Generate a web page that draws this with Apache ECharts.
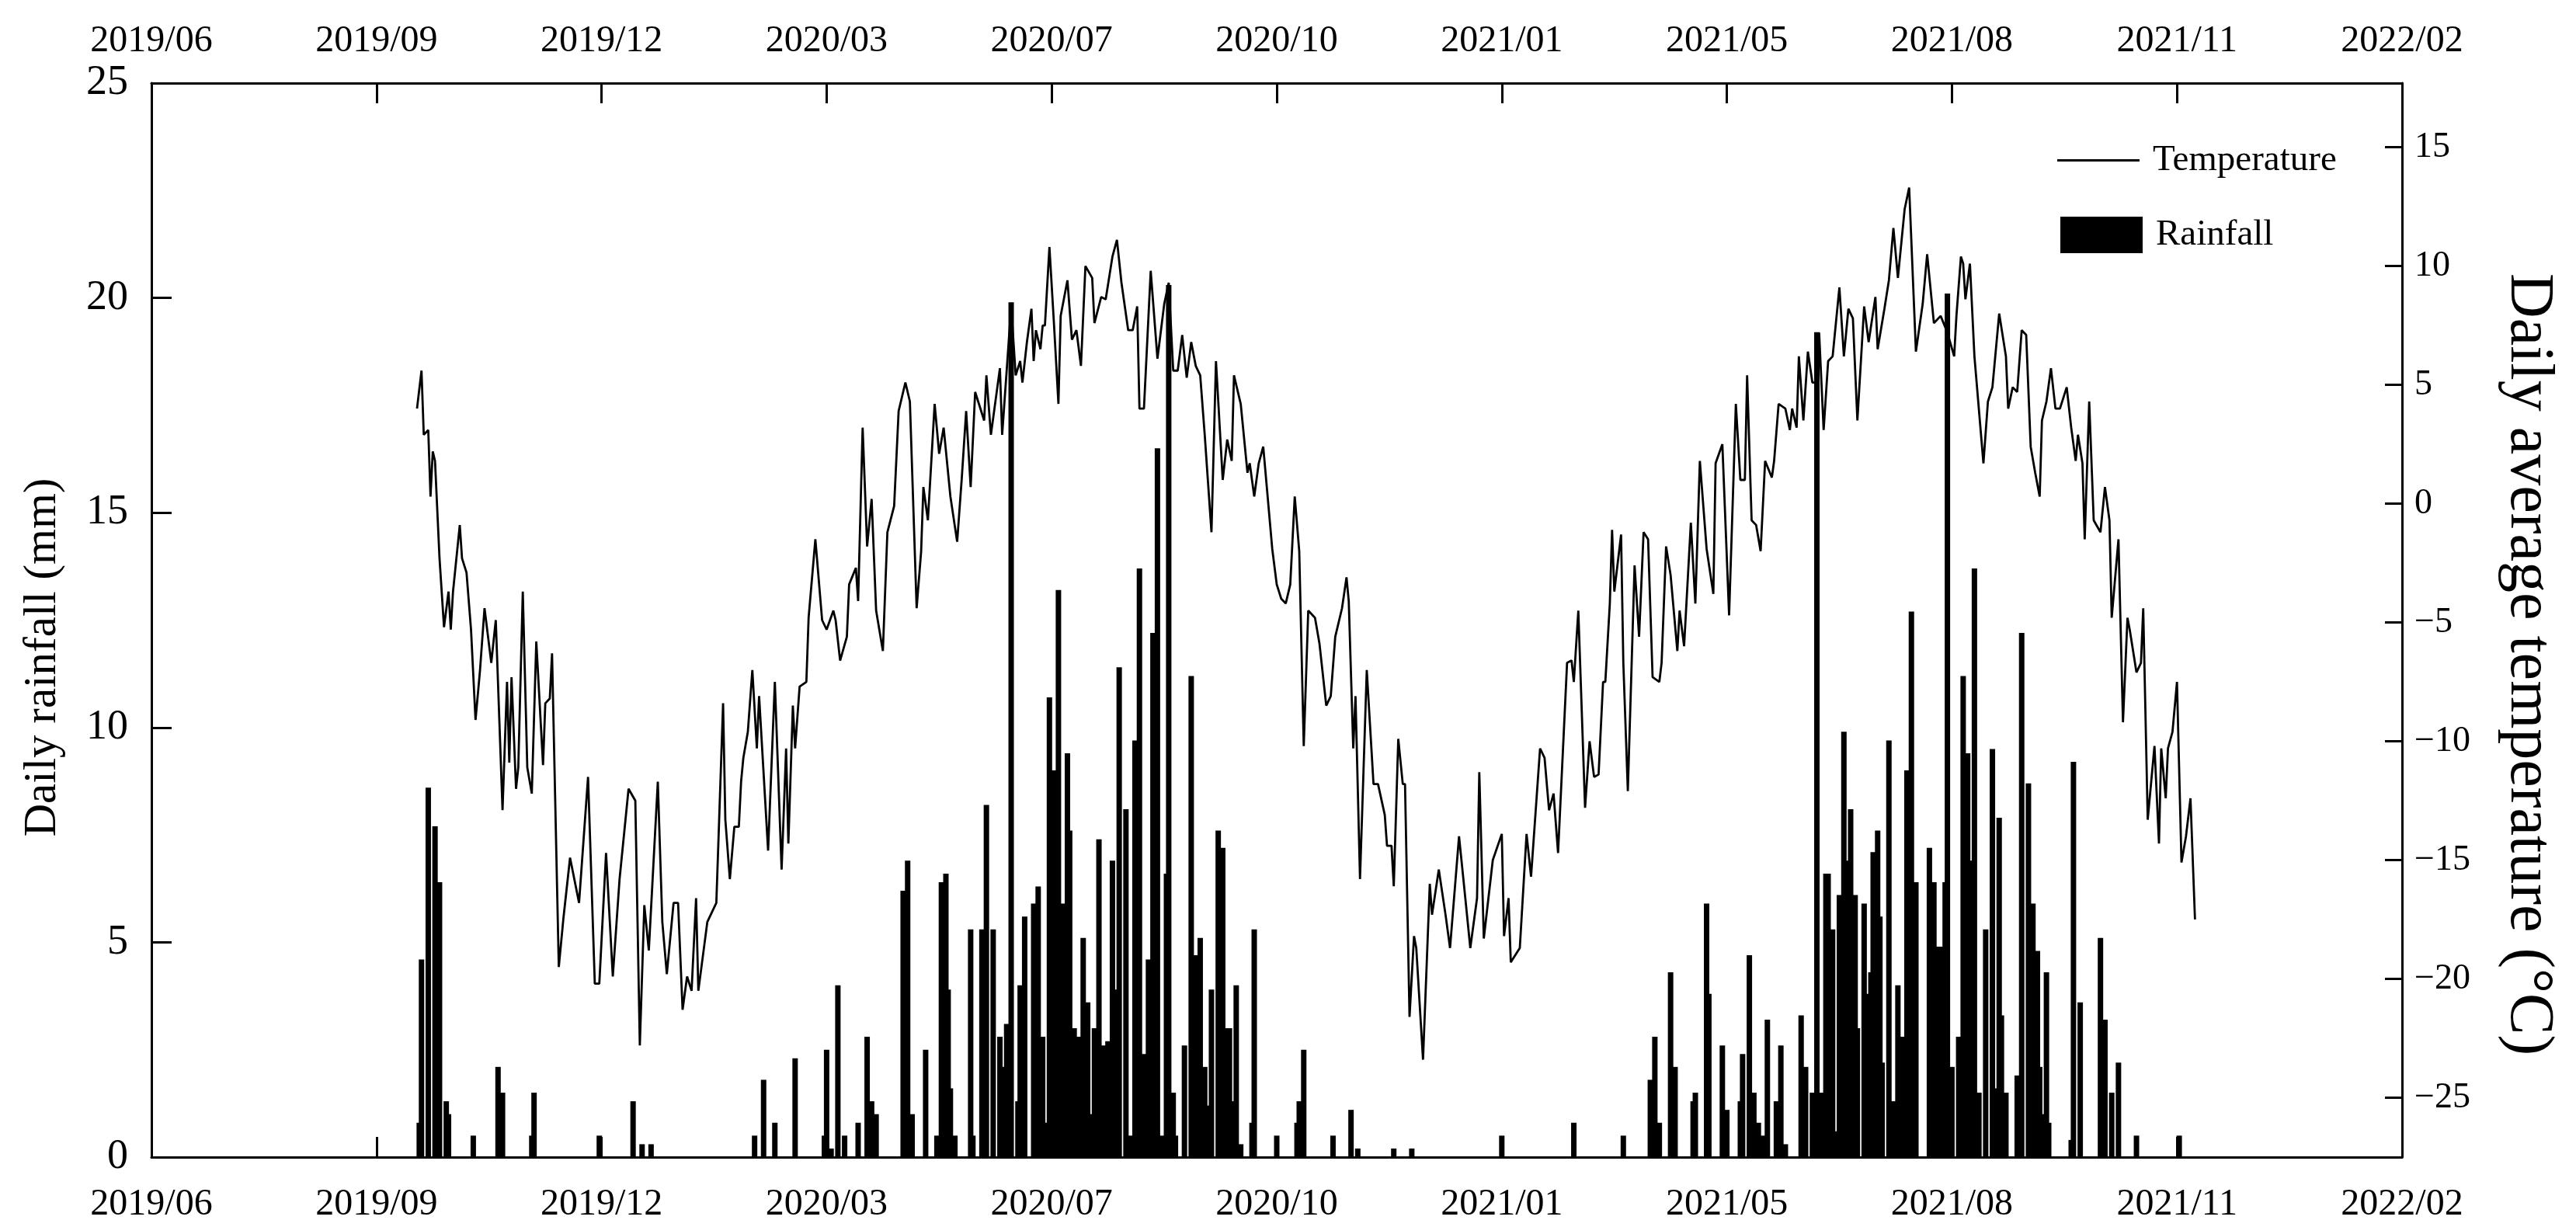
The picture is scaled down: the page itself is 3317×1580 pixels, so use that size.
<!DOCTYPE html>
<html>
<head>
<meta charset="utf-8">
<title>Daily rainfall and temperature</title>
<script src="https://cdn.jsdelivr.net/npm/echarts@6/dist/echarts.min.js"></script>
<style>
  html, body { margin: 0; padding: 0; background: #fff; }
  #chart { width: 3317px; height: 1580px; }
</style>
</head>
<body>
<div id="chart"></div>
<script>
// x values are day numbers counted from 2019/06/01
const startDate = Date.UTC(2019, 5, 1);

// daily average temperature, [day, degC]
const temperature = [
  [118, 4.0], [120, 5.6], [121, 2.9], [123, 3.1], [124, 0.3], [125, 2.2], [126, 1.8], [128, -2.3], [130, -5.2], [132, -3.7],
  [133, -5.3], [134, -3.7], [137, -0.9], [138, -2.3], [140, -2.9], [142, -5.3], [144, -9.1], [146, -7.0], [148, -4.4], [151, -6.7],
  [153, -4.9], [156, -12.9], [158, -7.5], [159, -10.9], [160, -7.3], [162, -12.0], [163, -11.1], [165, -3.7], [167, -11.1], [169, -12.2],
  [171, -5.8], [174, -11.0], [175, -8.4], [177, -8.2], [178, -6.3], [181, -19.5], [183, -17.5], [186, -14.9], [190, -16.8], [194, -11.5],
  [197, -20.2], [199, -20.2], [202, -14.7], [205, -19.9], [208, -15.8], [212, -12.0], [215, -12.5], [217, -22.8], [219, -16.9], [221, -18.8],
  [225, -11.7], [227, -17.6], [229, -19.8], [232, -16.8], [234, -16.8], [236, -21.3], [238, -19.9], [240, -20.5], [242, -16.6], [243, -20.5],
  [247, -17.6], [249, -17.2], [251, -16.8], [254, -8.4], [255, -13.3], [257, -15.8], [259, -13.6], [261, -13.6], [262, -11.7], [263, -10.7],
  [265, -9.6], [267, -7.0], [269, -10.3], [270, -8.1], [274, -14.6], [277, -7.5], [280, -15.4], [282, -10.3], [283, -14.3], [285, -8.5],
  [286, -10.3], [288, -7.7], [291, -7.5], [292, -4.8], [295, -1.5], [298, -4.9], [300, -5.3], [303, -4.5], [304, -4.9], [306, -6.6],
  [309, -5.6], [310, -3.4], [313, -2.7], [314, -4.1], [316, 3.2], [318, -1.8], [320, 0.2], [322, -4.5], [325, -6.2], [327, -1.2],
  [330, -0.1], [332, 3.9], [335, 5.1], [337, 4.3], [340, -4.4], [342, -2.0], [343, 0.7], [345, -0.7], [348, 4.2], [350, 2.1],
  [352, 3.2], [355, 0.3], [358, -1.6], [360, 1.0], [362, 3.9], [364, 0.7], [366, 4.7], [370, 3.5], [371, 5.4], [373, 2.9],
  [377, 5.7], [378, 2.9], [382, 8.3], [384, 5.4], [386, 6.0], [387, 5.1], [389, 6.8], [391, 8.2], [392, 6.0], [393, 7.3],
  [395, 6.5], [396, 7.5], [397, 7.5], [399, 10.8], [401, 7.6], [403, 4.2], [404, 7.9], [407, 9.4], [409, 6.9], [411, 7.3],
  [413, 5.8], [415, 10.0], [418, 9.5], [419, 7.6], [422, 8.7], [424, 8.6], [427, 10.4], [429, 11.1], [431, 9.3], [434, 7.3],
  [436, 7.3], [438, 8.3], [439, 4.0], [441, 4.0], [444, 9.8], [447, 6.1], [450, 8.4], [452, 9.3], [454, 5.6], [456, 5.6],
  [458, 7.1], [460, 5.3], [462, 6.8], [464, 5.8], [466, 5.4], [468, 2.9], [471, -1.2], [473, 6.0], [476, 1.0], [478, 2.7],
  [480, 1.8], [481, 5.4], [484, 4.2], [487, 1.3], [488, 1.7], [490, 0.3], [492, 1.7], [494, 2.4], [498, -1.9], [500, -3.4],
  [502, -4.0], [504, -4.2], [506, -3.4], [508, 0.3], [510, -2.0], [512, -10.2], [514, -4.5], [517, -4.8], [519, -5.9], [522, -8.5],
  [524, -8.1], [526, -5.6], [529, -4.4], [531, -3.1], [532, -4.1], [534, -10.3], [535, -8.1], [537, -15.8], [540, -7.0], [543, -11.8],
  [545, -11.8], [548, -13.1], [549, -14.4], [551, -14.4], [552, -16.1], [554, -9.9], [556, -11.8], [557, -11.8], [559, -21.6], [561, -18.2],
  [562, -18.7], [565, -23.4], [568, -16.0], [569, -17.3], [572, -15.4], [575, -17.3], [577, -18.7], [581, -14.0], [584, -16.8], [586, -18.7],
  [589, -16.6], [590, -11.3], [592, -18.3], [596, -15.0], [600, -13.9], [601, -18.2], [603, -16.6], [604, -19.3], [608, -18.7], [611, -13.9],
  [613, -15.7], [617, -10.3], [619, -10.7], [621, -12.9], [623, -12.2], [625, -14.7], [629, -6.7], [631, -6.6], [632, -7.5], [634, -4.5],
  [637, -12.8], [639, -10.0], [641, -11.5], [643, -11.4], [645, -7.5], [646, -7.5], [648, -4.2], [649, -1.1], [650, -3.7], [653, -1.3],
  [654, -6.7], [656, -12.1], [659, -2.6], [661, -5.6], [662, -3.4], [663, -1.2], [665, -1.5], [667, -7.3], [670, -7.5], [671, -6.7],
  [673, -1.8], [675, -3.0], [678, -6.2], [679, -4.5], [681, -6.0], [684, -0.8], [686, -4.2], [688, 1.8], [691, -1.9], [694, -3.8],
  [695, 1.7], [698, 2.5], [701, -4.7], [704, 4.2], [706, 1.0], [708, 1.0], [709, 5.4], [711, -0.7], [713, -0.9], [715, -2.0],
  [717, 1.8], [720, 1.1], [721, 1.8], [723, 4.2], [726, 4.0], [728, 3.1], [729, 4.0], [731, 3.2], [732, 6.2], [734, 3.5],
  [736, 6.4], [738, 5.1], [740, 5.1], [741, 7.2], [743, 3.1], [745, 6.0], [747, 6.2], [750, 9.1], [752, 6.2], [754, 8.2],
  [756, 7.8], [758, 3.5], [761, 8.3], [763, 6.8], [766, 8.7], [767, 6.5], [770, 8.2], [772, 9.4], [774, 11.6], [776, 9.5],
  [779, 12.4], [781, 13.3], [784, 6.4], [787, 8.4], [789, 10.5], [792, 7.6], [795, 7.9], [798, 7.2], [801, 6.2], [802, 7.9],
  [804, 10.4], [805, 10.1], [806, 8.6], [808, 10.1], [810, 6.2], [814, 1.7], [816, 4.3], [818, 4.9], [821, 8.0], [824, 6.2],
  [825, 4.0], [827, 4.9], [829, 4.7], [831, 7.3], [833, 7.1], [835, 2.4], [837, 1.3], [839, 0.3], [840, 3.5], [842, 4.3],
  [844, 5.7], [846, 4.0], [848, 4.0], [851, 4.9], [853, 3.2], [855, 1.8], [856, 2.9], [858, 1.7], [859, -1.5], [861, 4.3],
  [863, -0.7], [866, -1.2], [868, 0.7], [870, -0.7], [871, -4.8], [874, -1.5], [876, -9.2], [878, -4.8], [879, -5.3], [882, -7.1],
  [884, -6.7], [885, -4.4], [887, -13.3], [890, -10.2], [892, -14.3], [893, -10.3], [895, -12.4], [896, -10.3], [898, -9.6], [900, -7.5],
  [902, -15.1], [904, -14.0], [906, -12.4], [908, -17.5]
];

// daily rainfall, [day, mm]; days without a bar are dry
const rainfall = [
  [119, 0.8], [120, 4.6], [123, 8.6], [126, 7.7], [128, 6.4], [131, 1.3], [132, 1.0], [143, 0.5], [154, 2.1], [156, 1.5],
  [169, 0.5], [170, 1.5], [199, 0.5], [214, 1.3], [218, 0.3], [222, 0.3], [268, 0.5], [272, 1.8], [277, 0.8], [286, 2.3],
  [299, 0.5], [300, 2.5], [302, 0.2], [305, 4.0], [308, 0.5], [314, 0.8], [318, 2.8], [320, 1.3], [322, 1.0], [334, 6.2],
  [336, 6.9], [338, 1.0], [344, 2.5], [349, 0.5], [351, 6.4], [353, 6.6], [354, 3.9], [355, 1.6], [357, 0.5], [364, 5.3],
  [365, 0.5], [369, 5.3], [371, 8.2], [374, 5.3], [377, 2.8], [378, 2.1], [380, 3.1], [382, 19.9], [385, 1.3], [386, 4.0],
  [388, 5.6], [392, 5.9], [394, 6.3], [396, 2.8], [397, 0.8], [399, 10.7], [401, 9.0], [403, 13.2], [405, 5.9], [407, 9.4],
  [408, 7.6], [410, 3.0], [412, 2.8], [414, 5.1], [416, 3.6], [418, 1.0], [419, 3.0], [421, 7.4], [423, 2.6], [425, 2.7],
  [427, 6.9], [429, 3.9], [430, 11.4], [433, 8.1], [435, 0.5], [437, 9.7], [439, 13.7], [441, 2.4], [442, 1.3], [443, 4.6],
  [445, 12.2], [447, 16.5], [449, 0.5], [451, 6.6], [452, 20.3], [454, 1.5], [455, 0.5], [459, 2.6], [462, 11.2], [464, 4.7],
  [466, 5.1], [468, 2.1], [470, 1.2], [471, 3.9], [474, 7.6], [476, 7.2], [477, 3.0], [479, 3.0], [480, 1.3], [482, 4.0],
  [484, 0.3], [489, 0.8], [490, 5.3], [500, 0.5], [509, 0.8], [510, 1.3], [512, 2.5], [525, 0.5], [533, 1.1], [536, 0.2],
  [552, 0.2], [560, 0.2], [600, 0.5], [632, 0.8], [654, 0.5], [666, 1.8], [668, 2.8], [670, 0.8], [675, 4.3], [677, 2.1],
  [685, 1.3], [686, 1.5], [691, 5.9], [692, 3.8], [698, 2.6], [700, 1.1], [706, 1.3], [707, 2.4], [710, 4.7], [712, 1.5],
  [714, 0.8], [716, 0.5], [718, 3.2], [722, 1.3], [724, 2.6], [726, 0.3], [733, 3.3], [735, 2.1], [738, 1.5], [740, 19.2],
  [742, 1.5], [744, 6.6], [745, 6.6], [747, 5.3], [748, 0.6], [750, 6.1], [752, 9.9], [753, 6.9], [755, 8.1], [757, 6.1],
  [758, 3.0], [761, 5.9], [763, 3.8], [764, 4.3], [765, 7.1], [767, 7.6], [768, 5.6], [769, 2.2], [772, 9.7], [774, 1.3],
  [776, 4.0], [778, 2.8], [780, 9.0], [782, 12.7], [784, 6.4], [790, 7.2], [792, 6.4], [794, 4.9], [796, 4.9], [797, 6.4],
  [798, 20.1], [800, 2.1], [803, 2.8], [805, 11.2], [807, 9.4], [808, 6.9], [810, 13.7], [812, 1.5], [815, 5.3], [818, 9.5],
  [819, 1.6], [821, 7.9], [822, 3.3], [824, 1.5], [829, 1.9], [831, 12.2], [834, 8.7], [836, 5.9], [838, 4.8], [839, 2.1],
  [840, 1.0], [842, 4.3], [843, 0.8], [853, 0.4], [854, 9.2], [857, 3.6], [866, 5.1], [868, 3.2], [871, 1.5], [874, 2.2],
  [882, 0.5], [901, 0.5]
];

const dayTicks = [0, 100, 200, 300, 400, 500, 600, 700, 800, 900, 1000];
const rainTicks = [0, 5, 10, 15, 20, 25];
const tempTicks = [-25, -20, -15, -10, -5, 0, 5, 10, 15];

const font = '"Liberation Serif", "Times New Roman", serif';
const ink = '#000';

function dayLabel(v) {
  const d = new Date(startDate + v * 86400000);
  return d.getUTCFullYear() + '/' + String(d.getUTCMonth() + 1).padStart(2, '0');
}

function xAxis(position, margin) {
  return {
    type: 'value',
    position: position,
    min: dayTicks[0],
    max: dayTicks[dayTicks.length - 1],
    interval: dayTicks[1] - dayTicks[0],
    axisLine: { show: true, onZero: false, lineStyle: { color: ink, width: 3 } },
    axisTick: { show: true, inside: true, length: 26, lineStyle: { color: ink, width: 3 } },
    axisLabel: {
      formatter: dayLabel, fontFamily: font, fontSize: 48, color: ink, margin: margin,
      showMinLabel: true, showMaxLabel: true
    },
    splitLine: { show: false }
  };
}

const chart = echarts.init(document.getElementById('chart'), null, { renderer: 'canvas' });

chart.setOption({
  backgroundColor: '#fff',
  animation: false,
  grid: { left: 195, right: 224, top: 107, bottom: 90, containLabel: false },
  legend: [
    {
      data: ['Temperature'], left: 2644, top: 178, icon: 'rect',
      itemWidth: 106, itemHeight: 3,
      textStyle: { fontFamily: font, fontSize: 47, color: ink, padding: [0, 0, 0, 12] }
    },
    {
      data: ['Rainfall'], left: 2648, top: 274, icon: 'rect',
      itemWidth: 106, itemHeight: 47,
      textStyle: { fontFamily: font, fontSize: 47, color: ink, padding: [0, 0, 0, 12] }
    }
  ],
  xAxis: [xAxis('bottom', 37), xAxis('top', 30)],
  yAxis: [
    {
      type: 'value', position: 'left',
      min: rainTicks[0], max: rainTicks[rainTicks.length - 1], interval: rainTicks[1] - rainTicks[0],
      name: 'Daily rainfall (mm)', nameLocation: 'middle', nameGap: 110, nameRotate: 90,
      nameTextStyle: { fontFamily: font, fontSize: 59, color: ink, padding: [0, 96, 0, 0] },
      axisLine: { show: true, onZero: false, lineStyle: { color: ink, width: 3 } },
      axisTick: { show: true, inside: true, length: 26, lineStyle: { color: ink, width: 3 } },
      axisLabel: { fontFamily: font, fontSize: 54, color: ink, margin: 30 },
      splitLine: { show: false }
    },
    {
      type: 'value', position: 'right',
      min: -27.5, max: 17.7,
      name: 'Daily average temperature (°C)', nameLocation: 'middle', nameGap: 122, nameRotate: -90,
      nameTextStyle: { fontFamily: font, fontSize: 80, color: ink, padding: [0, 0, 0, 114] },
      axisLine: { show: true, onZero: false, lineStyle: { color: ink, width: 3 } },
      axisTick: { show: true, inside: true, length: 22, customValues: tempTicks, lineStyle: { color: ink, width: 3 } },
      axisLabel: {
        fontFamily: font, fontSize: 46, color: ink, margin: 16, customValues: tempTicks,
        formatter: v => String(v).replace('-', '\u2212')
      },
      splitLine: { show: false }
    }
  ],
  series: [
    {
      name: 'Rainfall', type: 'bar', xAxisIndex: 0, yAxisIndex: 0,
      barWidth: 7, color: ink, itemStyle: { color: ink },
      data: rainfall, z: 2
    },
    {
      name: 'Temperature', type: 'line', xAxisIndex: 0, yAxisIndex: 1,
      symbol: 'none', showSymbol: false, color: ink,
      lineStyle: { color: ink, width: 2.8 },
      data: temperature, z: 3
    }
  ]
});
</script>
</body>
</html>
